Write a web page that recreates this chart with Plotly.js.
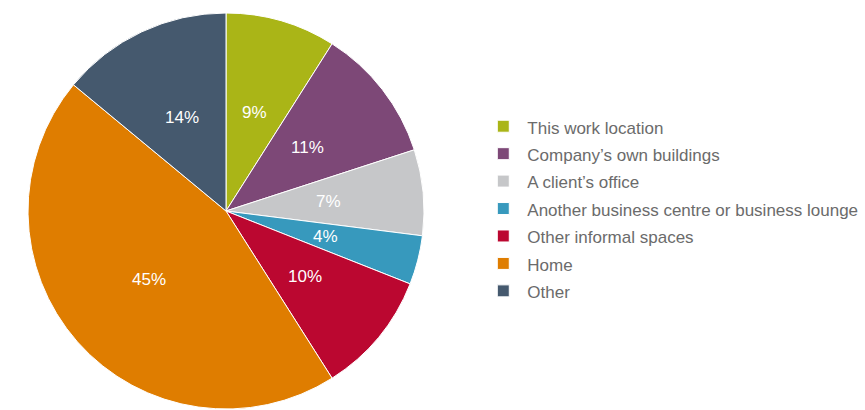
<!DOCTYPE html>
<html>
<head>
<meta charset="utf-8">
<script src="https://cdn.plot.ly/plotly-3.0.1.min.js"></script>
<style>html,body{margin:0;padding:0;background:#fff;}#chart{width:865px;height:410px;}</style>
</head>
<body>
<div id="chart"></div>
<script>
const labels = [
  "This work location",
  "Company\u2019s own buildings",
  "A client\u2019s office",
  "Another business centre or business lounge",
  "Other informal spaces",
  "Home",
  "Other"
];
const values = [9, 11, 7, 4, 10, 45, 14];
const valueLabels = ["9%", "11%", "7%", "4%", "10%", "45%", "14%"];
const colors = ["#aab517", "#7d4877", "#c6c7c9", "#3799bd", "#bb0730", "#df7d00", "#45596e"];

const W = 865, H = 410;
const cxPx = 226, cyPx = 211, R = 198;
const domX = [(cxPx - R) / W, (cxPx + R) / W];
const domY = [(H - cyPx - R) / H, (H - cyPx + R) / H];

// label positions along mid-angle of each slice
const total = values.reduce((a, b) => a + b, 0);
let cum = 0;
const annotations = values.map((v, i) => {
  const mid = (cum + v / 2) / total * 2 * Math.PI;
  cum += v;
  const rl = 0.52 * R;
  return {
    xref: "paper", yref: "paper",
    x: (cxPx + rl * Math.sin(mid)) / W,
    y: (H - cyPx + rl * Math.cos(mid)) / H,
    text: valueLabels[i],
    showarrow: false,
    xanchor: "center", yanchor: "middle",
    font: {family: "Liberation Sans, Arial, sans-serif", size: 17, color: "#ffffff"}
  };
});

const legendLabels = labels.map(l => '<span style="font-size:17px">' + l + '</span>');

const data = [{
  type: "pie",
  labels: legendLabels,
  values: values,
  sort: false,
  direction: "clockwise",
  rotation: 0,
  textinfo: "none",
  hoverinfo: "label+percent",
  marker: {colors: colors, line: {color: "#ffffff", width: 1}},
  domain: {x: domX, y: domY}
}];

const layout = {
  width: W, height: H,
  margin: {l: 0, r: 0, t: 0, b: 0},
  paper_bgcolor: "#ffffff",
  plot_bgcolor: "#ffffff",
  showlegend: true,
  legend: {
    x: 0.5541, xanchor: "left",
    y: (H - 209) / H, yanchor: "middle",
    itemwidth: 38,
    font: {family: "Liberation Sans, Arial, sans-serif", size: 18.8, color: "#6b6b6b"},
    bgcolor: "rgba(0,0,0,0)"
  },
  annotations: annotations
};

Plotly.newPlot("chart", data, layout, {displayModeBar: false, staticPlot: true});
</script>
</body>
</html>
